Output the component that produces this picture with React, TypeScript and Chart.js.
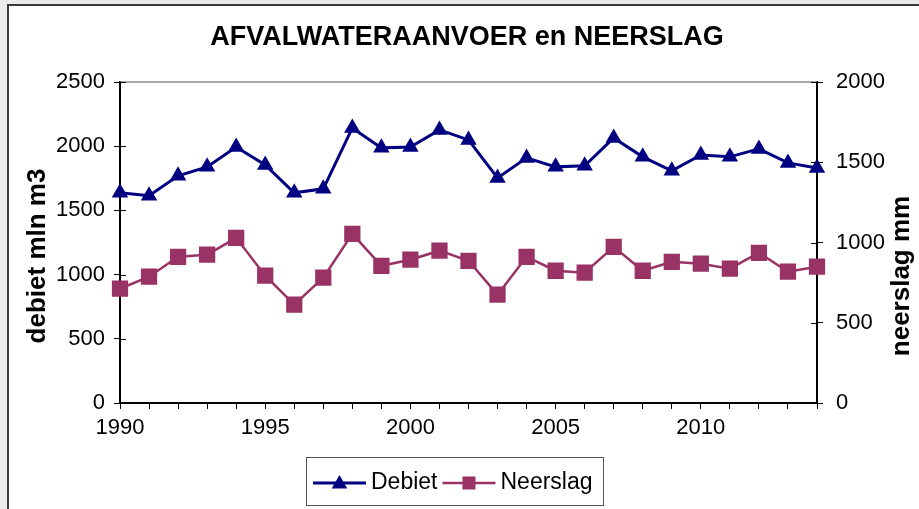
import React, { useEffect, useRef } from 'react';
import { Chart, registerables } from 'chart.js';

Chart.register(...registerables);

const years = ['1990','1991','1992','1993','1994','1995','1996','1997','1998','1999','2000','2001','2002','2003','2004','2005','2006','2007','2008','2009','2010','2011','2012','2013','2014'];
const debiet = [1637,1614,1769,1839,1994,1854,1637,1668,2142,1987,1994,2127,2049,1753,1909,1839,1847,2064,1917,1808,1932,1917,1979,1870,1831];
const neerslag = [712,787,911,924,1029,793,613,781,1054,855,893,949,886,675,911,824,812,973,824,880,868,837,936,818,849];
const shownYearLabels = ['1990','1995','2000','2005','2010'];
const chartTitle = 'AFVALWATERAANVOER en NEERSLAG';
const leftAxisTitle = 'debiet mln m3';
const rightAxisTitle = 'neerslag mm';
const seriesNames = ['Debiet', 'Neerslag'];

const FONT = '"Liberation Sans", Arial, Helvetica, sans-serif';
const NAVY = '#000080';
const PLUM = '#993366';

const decorPlugin = {
  id: 'decor',
  afterDraw(chart: any) {
    const ctx = chart.ctx;
    const area = chart.chartArea;
    ctx.save();
    ctx.strokeStyle = '#8c8c8c';
    ctx.lineWidth = 1.5;
    ctx.beginPath();
    ctx.moveTo(area.left, area.top);
    ctx.lineTo(area.right, area.top);
    ctx.stroke();
    ctx.strokeStyle = '#000';
    ctx.lineWidth = 1;
    ['y', 'y1'].forEach((id) => {
      const s = chart.scales[id];
      s.ticks.forEach((t: any) => {
        const py = Math.round(s.getPixelForValue(t.value)) + 0.5;
        ctx.beginPath();
        if (id === 'y') {
          ctx.moveTo(area.left, py);
          ctx.lineTo(area.left + 6, py);
        } else {
          ctx.moveTo(area.right - 6, py);
          ctx.lineTo(area.right, py);
        }
        ctx.stroke();
      });
    });
    ctx.fillStyle = '#000';
    ctx.font = `bold 27px ${FONT}`;
    ctx.textAlign = 'center';
    ctx.textBaseline = 'middle';
    ctx.fillText(chartTitle, 467, 38);
    ctx.font = `bold 26px ${FONT}`;
    ctx.save();
    ctx.translate(38, 256);
    ctx.rotate(-Math.PI / 2);
    ctx.fillText(leftAxisTitle, 0, 0);
    ctx.restore();
    ctx.save();
    ctx.translate(902, 276);
    ctx.rotate(-Math.PI / 2);
    ctx.fillText(rightAxisTitle, 0, 0);
    ctx.restore();
    const bx = 306.5, by = 457.5, bw = 297, bh = 48;
    ctx.strokeStyle = '#555';
    ctx.lineWidth = 1;
    ctx.strokeRect(bx, by, bw, bh);
    ctx.font = `23px ${FONT}`;
    ctx.textAlign = 'left';
    ctx.textBaseline = 'middle';
    const ly = 483;
    let x = 313;
    chart.data.datasets.forEach((ds: any, i: number) => {
      ctx.strokeStyle = ds.borderColor;
      ctx.lineWidth = ds.borderWidth;
      ctx.beginPath();
      ctx.moveTo(x, ly);
      ctx.lineTo(x + 53, ly);
      ctx.stroke();
      ctx.fillStyle = ds.pointBackgroundColor;
      const cx = x + 26.5;
      if (ds.pointStyle === 'triangle') {
        const r = 9;
        ctx.beginPath();
        ctx.moveTo(cx, ly - r + 1);
        ctx.lineTo(cx + r * 0.866, ly + r * 0.5 + 1);
        ctx.lineTo(cx - r * 0.866, ly + r * 0.5 + 1);
        ctx.closePath();
        ctx.fill();
      } else {
        ctx.fillRect(cx - 6.5, ly - 6.5, 13, 13);
      }
      ctx.fillStyle = '#000';
      ctx.fillText(seriesNames[i], x + 58, ly);
      x += 58 + ctx.measureText(seriesNames[i]).width + 5;
    });
    ctx.restore();
  },
};

export default function App() {
  const ref = useRef<HTMLCanvasElement | null>(null);
  useEffect(() => {
    if (!ref.current) return;
    const chart = new Chart(ref.current, {
      type: 'line',
      data: {
        labels: years,
        datasets: [
          {
            label: seriesNames[0],
            data: debiet,
            yAxisID: 'y',
            borderColor: NAVY,
            backgroundColor: NAVY,
            pointBackgroundColor: NAVY,
            pointBorderColor: NAVY,
            pointStyle: 'triangle',
            pointRadius: 9.5,
            pointBorderWidth: 0,
            borderWidth: 3,
            tension: 0,
          },
          {
            label: seriesNames[1],
            data: neerslag,
            yAxisID: 'y1',
            borderColor: PLUM,
            backgroundColor: PLUM,
            pointBackgroundColor: PLUM,
            pointBorderColor: PLUM,
            pointStyle: 'rect',
            pointRadius: 11.5,
            pointBorderWidth: 0,
            borderWidth: 2.5,
            tension: 0,
          },
        ],
      },
      options: {
        animation: false,
        responsive: false,
        maintainAspectRatio: false,
        layout: { padding: { top: 82, left: 0, right: 0, bottom: 0 } },
        plugins: {
          legend: { display: false },
          title: { display: false },
          tooltip: { enabled: false },
        },
        scales: {
          x: {
            type: 'category',
            offset: false,
            grid: { drawOnChartArea: false, drawTicks: true, tickLength: 6, color: '#000', lineWidth: 1 },
            border: { display: true, color: '#000', width: 2 },
            ticks: {
              autoSkip: false,
              maxRotation: 0,
              minRotation: 0,
              padding: 6,
              color: '#000',
              font: { family: FONT, size: 22 },
              callback: function (this: any, val: any) {
                const lab = this.getLabelForValue(val);
                return shownYearLabels.includes(lab) ? lab : '';
              },
            },
            afterFit: (s: any) => { s.height = 106; },
          },
          y: {
            position: 'left',
            min: 0,
            max: 2500,
            grid: { drawOnChartArea: false, drawTicks: true, tickLength: 6, color: '#000', lineWidth: 1 },
            border: { display: true, color: '#000', width: 2 },
            ticks: { stepSize: 500, padding: 9, color: '#000', font: { family: FONT, size: 22 }, callback: (v: any) => String(v) },
            afterFit: (s: any) => { s.width = 120; },
          },
          y1: {
            position: 'right',
            min: 0,
            max: 2000,
            grid: { drawOnChartArea: false, drawTicks: true, tickLength: 6, color: '#000', lineWidth: 1 },
            border: { display: true, color: '#000', width: 2 },
            ticks: { stepSize: 500, padding: 13, color: '#000', font: { family: FONT, size: 22 }, callback: (v: any) => String(v) },
            afterFit: (s: any) => { s.width = 102; },
          },
        },
      },
      plugins: [decorPlugin],
    });
    return () => chart.destroy();
  }, []);

  return (
    <div style={{ position: 'fixed', left: 0, top: 0, width: 919, height: 509, background: '#ebebeb', overflow: 'hidden' }}>
      <div
        style={{
          position: 'absolute',
          left: 7,
          top: 4,
          width: 940,
          height: 540,
          background: '#fff',
          borderLeft: '2px solid #3a3a3a',
          borderTop: '2px solid #3a3a3a',
        }}
      />
      <canvas ref={ref} width={919} height={509} style={{ position: 'absolute', left: 0, top: 0, width: 919, height: 509 }} />
    </div>
  );
}
